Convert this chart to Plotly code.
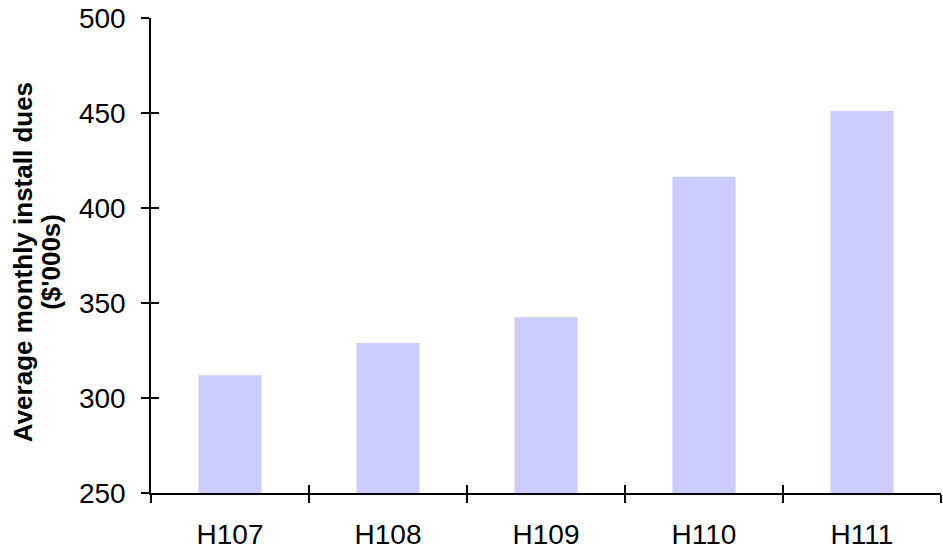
import plotly.graph_objects as go

# Average monthly install dues by half-year
periods = ["H107", "H108", "H109", "H110", "H111"]
dues = [312, 329, 342.5, 416.5, 451]
y_ticks = [250, 300, 350, 400, 450, 500]
y_title_lines = ["Average monthly install dues", "($'000s)"]

bar_color = "#CCCCFF"
font_family = "Liberation Sans, Arial, sans-serif"

fig = go.Figure()

fig.add_trace(go.Bar(
    x=periods, y=dues, marker_color=bar_color, marker_line_width=0,
    width=0.4, hoverinfo="x+y", showlegend=False,
))
# Transparent copy on the overlay axes so the inward half of the cross ticks is drawn
fig.add_trace(go.Bar(
    x=periods, y=dues, xaxis="x2", yaxis="y2", opacity=0,
    width=0.4, hoverinfo="skip", showlegend=False,
))

axis_common = dict(showgrid=False, zeroline=False, linecolor="black", linewidth=1.5,
                   tickcolor="black", tickwidth=1.5, ticklen=8)

# Two-line rotated y title, lines placed individually for tighter leading
title_x = [-0.162, -0.127]
annotations = [
    dict(text=f"<b>{line}</b>", xref="paper", yref="paper", x=xp, y=0.486,
         xanchor="center", yanchor="middle", textangle=-90, showarrow=False,
         font=dict(size=26, family=font_family))
    for line, xp in zip(y_title_lines, title_x)
]

fig.update_layout(
    width=943, height=551,
    margin=dict(l=151, r=2, t=18, b=58),
    plot_bgcolor="white", paper_bgcolor="white",
    font=dict(family=font_family, color="black", size=28),
    bargap=0.6,
    xaxis=dict(**axis_common, type="category", categoryarray=periods,
               showline=True, ticks="outside", tickson="boundaries",
               ticklabelstandoff=16, tickfont=dict(size=28)),
    yaxis=dict(**axis_common, range=[250, 500], tickvals=y_ticks,
               showline=True, ticks="outside", ticklabelstandoff=10,
               tickfont=dict(size=28)),
    xaxis2=dict(**axis_common, type="category", categoryarray=periods,
                overlaying="x", matches="x", showline=False, ticks="inside",
                tickson="boundaries", showticklabels=False),
    yaxis2=dict(**axis_common, range=[250, 500], tickvals=y_ticks,
                overlaying="y", showline=False, ticks="inside",
                showticklabels=False),
    annotations=annotations,
)

fig.write_html("out.html")
